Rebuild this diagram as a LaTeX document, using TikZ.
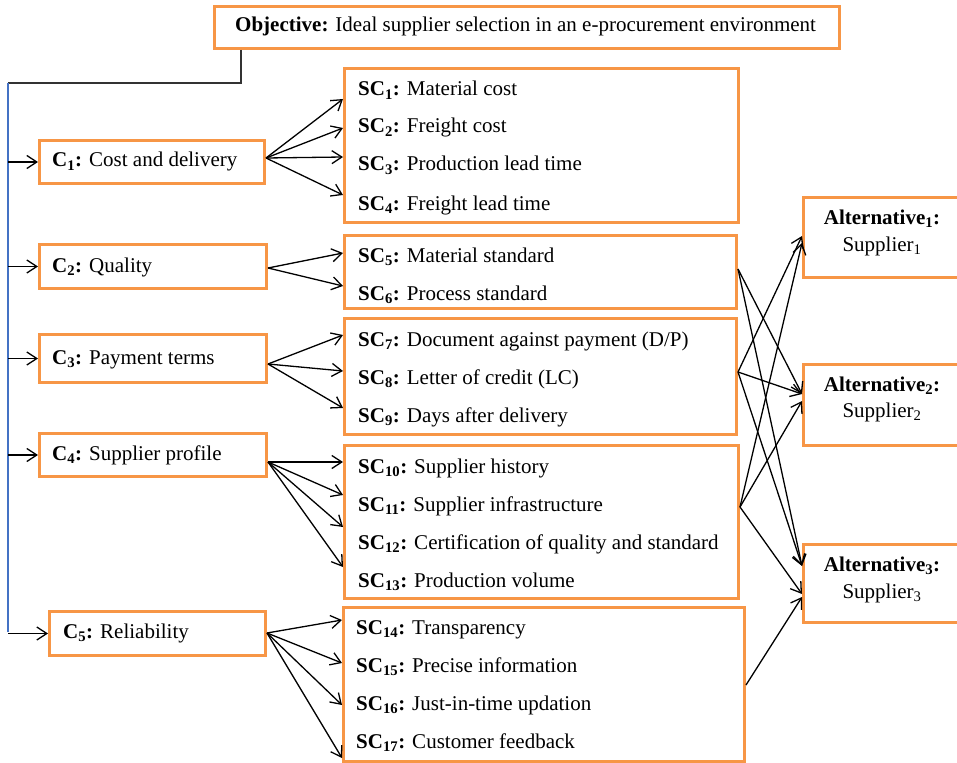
\documentclass[tikz,border=0pt]{standalone}
\usepackage{fontspec}
\setmainfont{Liberation Serif}
\usetikzlibrary{arrows.meta}
\definecolor{boxorange}{HTML}{F79646}
\definecolor{lineblue}{HTML}{4472C4}
\begin{document}
\begin{tikzpicture}[x=1pt,y=-1pt,
  font=\fontsize{21}{25}\selectfont,
  box/.style={draw=boxorange, line width=3pt, rectangle, anchor=north west, inner sep=0pt},
  txt/.style={anchor=base west, inner sep=0pt},
  ctxt/.style={anchor=base, inner sep=0pt},
  arr/.style={-{Straight Barb[length=10pt,width=13pt]}, line width=1.3pt},
]
\useasboundingbox (0,0) rectangle (957,762);

% boxes
\node[box, minimum width=625pt, minimum height=42pt] (obj) at (213,5) {};
\node[box, minimum width=225pt, minimum height=43pt] (c1) at (38,139) {};
\node[box, minimum width=227pt, minimum height=44pt] (c2) at (38,243) {};
\node[box, minimum width=227pt, minimum height=48pt] (c3) at (38,333) {};
\node[box, minimum width=227pt, minimum height=43pt] (c4) at (38,432) {};
\node[box, minimum width=216pt, minimum height=44pt] (c5) at (48,610) {};
\node[box, minimum width=394pt, minimum height=154pt] (b1) at (343,67) {};
\node[box, minimum width=392pt, minimum height=73pt] (b2) at (343,234) {};
\node[box, minimum width=392pt, minimum height=116pt] (b3) at (343,317) {};
\node[box, minimum width=394pt, minimum height=153pt] (b4) at (343,444) {};
\node[box, minimum width=401pt, minimum height=154pt] (b5) at (342,606) {};
\node[box, minimum width=170pt, minimum height=80pt] (a1) at (802,196) {};
\node[box, minimum width=170pt, minimum height=81pt] (a2) at (802,363) {};
\node[box, minimum width=170pt, minimum height=78pt] (a3) at (802,543) {};

% texts
\node[txt] (objt) at (235,32) {\textbf{Objective:} Ideal supplier selection in an e-procurement environment};
\node[txt] (c1t) at (52,167) {\textbf{C\textsubscript{1}:} Cost and delivery};
\node[txt] (c2t) at (52,272) {\textbf{C\textsubscript{2}:} Quality};
\node[txt] (c3t) at (52,364) {\textbf{C\textsubscript{3}:} Payment terms};
\node[txt] (c4t) at (52,460) {\textbf{C\textsubscript{4}:} Supplier profile};
\node[txt] (c5t) at (63,638) {\textbf{C\textsubscript{5}:} Reliability};

\node[txt] (s1) at (358,96) {\textbf{SC\textsubscript{1}:} Material cost};
\node[txt] (s2) at (358,133) {\textbf{SC\textsubscript{2}:} Freight cost};
\node[txt] (s3) at (358,171) {\textbf{SC\textsubscript{3}:} Production lead time};
\node[txt] (s4) at (358,210) {\textbf{SC\textsubscript{4}:} Freight lead time};
\node[txt] (s5) at (358,262) {\textbf{SC\textsubscript{5}:} Material standard};
\node[txt] (s6) at (358,300) {\textbf{SC\textsubscript{6}:} Process standard};
\node[txt] (s7) at (358,346) {\textbf{SC\textsubscript{7}:} Document against payment (D/P)};
\node[txt] (s8) at (358,384) {\textbf{SC\textsubscript{8}:} Letter of credit (LC)};
\node[txt] (s9) at (358,422) {\textbf{SC\textsubscript{9}:} Days after delivery};
\node[txt] (s10) at (358,473) {\textbf{SC\textsubscript{10}:} Supplier history};
\node[txt] (s11) at (358,511) {\textbf{SC\textsubscript{11}:} Supplier infrastructure};
\node[txt] (s12) at (358,549) {\textbf{SC\textsubscript{12}:} Certification of quality and standard};
\node[txt] (s13) at (358,587) {\textbf{SC\textsubscript{13}:} Production volume};
\node[txt] (s14) at (356,634) {\textbf{SC\textsubscript{14}:} Transparency};
\node[txt] (s15) at (356,672) {\textbf{SC\textsubscript{15}:} Precise information};
\node[txt] (s16) at (356,710) {\textbf{SC\textsubscript{16}:} Just-in-time updation};
\node[txt] (s17) at (356,748) {\textbf{SC\textsubscript{17}:} Customer feedback};

\node[ctxt] (a1t) at (882,224) {\textbf{Alternative\textsubscript{1}:}};
\node[ctxt] (a1s) at (882,251) {Supplier\textsubscript{1}};
\node[ctxt] (a2t) at (882,391) {\textbf{Alternative\textsubscript{2}:}};
\node[ctxt] (a2s) at (882,417) {Supplier\textsubscript{2}};
\node[ctxt] (a3t) at (882,571) {\textbf{Alternative\textsubscript{3}:}};
\node[ctxt] (a3s) at (882,598) {Supplier\textsubscript{3}};

% objective to criteria
\coordinate (hub) at (8,83);
\coordinate (vend) at (8,632);
\draw[line width=1.3pt, black!80] (obj.south west -| 241,0) |- (hub);
\draw[line width=1.1pt, lineblue] (hub) -- (vend);
\foreach \c in {c1,c2,c3,c4,c5}
  \draw[arr] (hub |- \c.west) -- (\c.west);

% criteria to sub-criteria
\foreach \y in {99,128,157,195}
  \draw[arr] (c1.east |- 0,158) -- (b1.west |- 0,\y);
\foreach \y in {253,286}
  \draw[arr] (c2.east |- 0,268) -- (b2.west |- 0,\y);
\foreach \y in {335,371,408}
  \draw[arr] (c3.east |- 0,364) -- (b3.west |- 0,\y);
\foreach \y in {462,495,527,567}
  \draw[arr] (c4.east |- 0,462) -- (b4.west |- 0,\y);
\foreach \y in {620,663,705,758}
  \draw[arr] (c5.east |- 0,633) -- (b5.west |- 0,\y);

% sub-criteria to alternatives
\draw[arr] (b3.east |- 0,372) -- (a1.west |- 0,236);
\draw[arr] (b4.east |- 0,507) -- (a1.west |- 0,243);
\draw[arr] (b2.east |- 0,269) -- (a2.west |- 0,394);
\draw[arr] (b3.east |- 0,372) -- (a2.west |- 0,394);
\draw[arr] (b4.east |- 0,507) -- (a2.west |- 0,401);
\draw[arr] (b2.east |- 0,269) -- (a3.west |- 0,566);
\draw[arr] (b3.east |- 0,372) -- (a3.west |- 0,566);
\draw[arr] (b4.east |- 0,507) -- (a3.west |- 0,594);
\draw[arr] (b5.east |- 0,685) -- (a3.west |- 0,597);
\end{tikzpicture}
\end{document}
